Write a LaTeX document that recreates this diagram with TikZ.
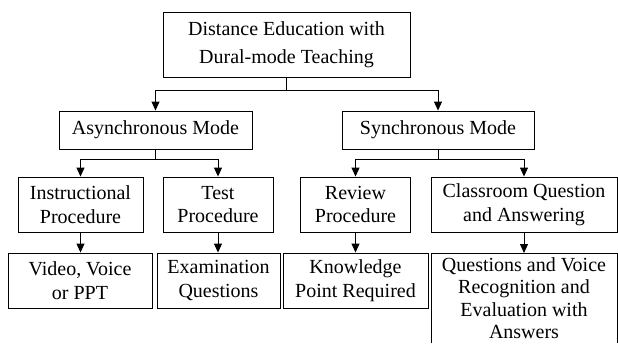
\documentclass[tikz,border=0pt]{standalone}
\usepackage{fontspec}
\setmainfont{Liberation Serif}
\usetikzlibrary{arrows.meta}
\begin{document}
\begin{tikzpicture}[x=1pt,y=-1pt,
  box/.style={draw, line width=0.9pt, inner sep=0pt, align=center, font=\fontsize{20}{23.5}\selectfont},
  txt/.style={inner sep=0pt, align=center, font=\fontsize{20}{22.5}\selectfont},
  conn/.style={line width=0.9pt},
  arr/.style={line width=0.9pt, -{Triangle[length=9pt,width=8pt]}}]
\useasboundingbox (0,0) rectangle (618,343);
% top
\node[box, font=\fontsize{20}{28}\selectfont, minimum width=247pt, minimum height=65pt] (top) at (286.5,44.5) {Distance Education with\\Dural-mode Teaching};
\node[box, minimum width=193pt, minimum height=38pt] (async) at (155.5,130) {Asynchronous Mode};
\node[box, minimum width=192pt, minimum height=38pt] (sync) at (438,130) {Synchronous Mode};
% level 3
\node[box, minimum width=125pt, minimum height=55pt] (instr) at (80.5,204.5) {Instructional\\Procedure};
\node[box, minimum width=110pt, minimum height=55pt] (test) at (218,204.5) {Test\\Procedure};
\node[box, minimum width=110pt, minimum height=55pt] (review) at (355.5,204.5) {Review\\Procedure};
\node[box, minimum width=186pt, minimum height=55pt] (class) at (524,204.5) {Classroom Question\\and Answering};
% level 4
\node[box, minimum width=144pt, minimum height=55pt] (video) at (80,280.5) {Video, Voice\\or PPT};
\node[box, minimum width=123pt, minimum height=55pt] (exam) at (218.5,280.5) {Examination\\Questions};
\node[box, minimum width=145pt, minimum height=55pt] (know) at (355.5,280.5) {Knowledge\\Point Required};
\coordinate (qa) at (524,253);
\node[txt, anchor=north] (quest) at (524,257) {Questions and Voice\\Recognition and\\Evaluation with\\Answers};
\draw[conn] (431,343) -- (431,253) -- (617,253) -- (617,343);
% connectors
\coordinate (j1) at (286.5,90);
\draw[conn] (top.south) -- (j1);
\draw[arr] (j1) -| (async.north);
\draw[arr] (j1) -| (sync.north);
\coordinate (j2) at (155.5,159);
\draw[conn] (async.south) -- (j2);
\draw[arr] (j2) -| (instr.north);
\draw[arr] (j2) -| (test.north);
\coordinate (j3) at (438,159);
\draw[conn] (sync.south) -- (j3);
\draw[arr] (j3) -| (review.north);
\draw[arr] (j3) -| (class.north);
\draw[arr] (instr.south) -- (instr.south |- video.north);
\draw[arr] (test.south) -- (test.south |- exam.north);
\draw[arr] (review.south) -- (review.south |- know.north);
\draw[arr] (class.south) -- (qa);
\end{tikzpicture}
\end{document}
